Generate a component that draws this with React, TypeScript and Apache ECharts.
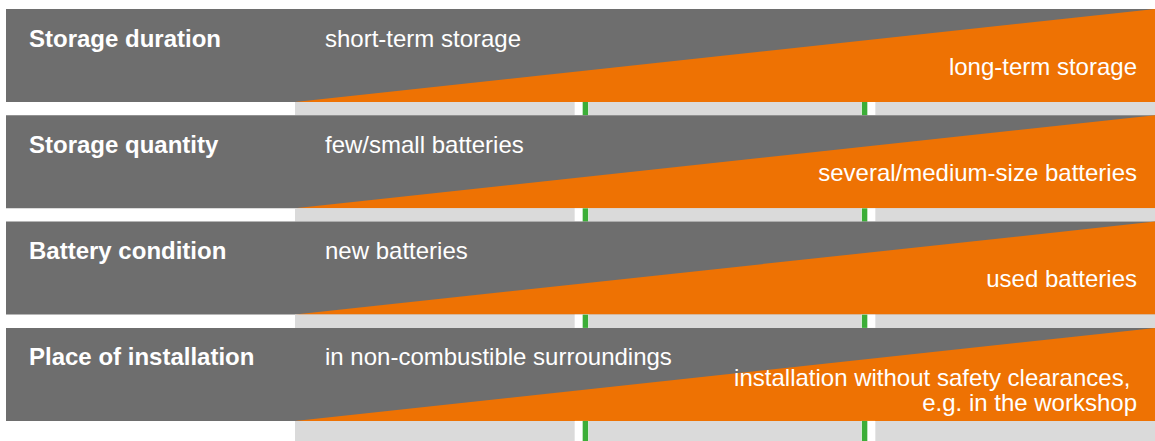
import React, { useEffect, useRef } from "react";
import * as echarts from "echarts";

const categories = ["Storage duration", "Storage quantity", "Battery condition", "Place of installation"];
const lowEnd = ["short-term storage", "few/small batteries", "new batteries", "in non-combustible surroundings"];
const highEnd = [
  "long-term storage",
  "several/medium-size batteries",
  "used batteries",
  "installation without safety clearances, \ne.g. in the workshop",
];
const scaleMin = 0;
const scaleMax = 3;
const dividers = [1, 2];

const DARK = "#6e6e6e";
const ORANGE = "#ee7203";
const LIGHT = "#dadada";
const GREEN = "#3cae38";
const FONT_FAMILY = '"Liberation Sans", Arial, Helvetica, sans-serif';

export default function App() {
  const ref = useRef<HTMLDivElement>(null);

  useEffect(() => {
    if (!ref.current) return;
    const chart = echarts.init(ref.current, null, { renderer: "svg" });
    const last = categories.length - 1;

    const renderItem = (params: any, api: any) => {
      const i = api.value(0);
      const band = api.size([0, 1])[1];
      const [x0, yc] = api.coord([scaleMin, i]);
      const x3 = api.coord([scaleMax, i])[0];
      const top = yc - band / 2;
      const darkH = band * 0.875;
      const bottom = top + darkH;
      const lightH = i === last ? api.getHeight() - bottom : band - darkH;
      const mid = (scaleMin + scaleMax) / 2;

      const children: any[] = [
        { type: "rect", shape: { x: 6, y: top, width: api.getWidth() - 6, height: darkH }, style: { fill: DARK } },
        {
          type: "polygon",
          shape: { points: [[x0, bottom], [x3, top], [x3, bottom]] },
          style: { fill: ORANGE },
        },
        { type: "rect", shape: { x: x0, y: bottom, width: x3 - x0, height: lightH }, style: { fill: LIGHT } },
      ];

      dividers.forEach((d) => {
        const xd = api.coord([d, i])[0];
        const greenRight = d < mid;
        children.push({
          type: "rect",
          shape: { x: xd - 7, y: bottom, width: 14, height: lightH },
          style: { fill: "#ffffff" },
        });
        children.push({
          type: "rect",
          shape: { x: greenRight ? xd + 1 : xd - 6.5, y: bottom, width: 5.5, height: lightH },
          style: { fill: GREEN },
        });
      });

      const textStyle = (text: string, weight: string, size: number, align: string) => ({
        text,
        fill: "#ffffff",
        font: `${weight} ${size}px ${FONT_FAMILY}`,
        align,
        verticalAlign: "middle",
        textAlign: align,
        textVerticalAlign: "middle",
      });

      children.push({ type: "text", x: 29, y: top + 29, style: textStyle(categories[i], "bold", 24, "left") });
      children.push({ type: "text", x: x0 + 30, y: top + 29, style: textStyle(lowEnd[i], "normal", 24, "left") });

      const lines = highEnd[i].split("\n");
      if (lines.length === 1) {
        children.push({ type: "text", x: x3 - 18, y: top + 57, style: textStyle(lines[0], "normal", 24, "right") });
      } else {
        lines.forEach((ln, k) => {
          children.push({
            type: "text",
            x: x3 - 18,
            y: top + 50 + k * 24.8,
            style: textStyle(ln, "normal", 24, "right"),
          });
        });
      }

      return { type: "group", children };
    };

    chart.setOption({
      animation: false,
      backgroundColor: "#ffffff",
      grid: { left: 295, right: 0, top: 9, bottom: 6.8 },
      xAxis: { type: "value", min: scaleMin, max: scaleMax, show: false },
      yAxis: { type: "category", data: categories, inverse: true, show: false },
      series: [
        {
          type: "custom",
          renderItem,
          clip: false,
          data: categories.map((_, i) => [i]),
          encode: { y: 0 },
        },
      ],
    });

    return () => chart.dispose();
  }, []);

  return (
    <div
      ref={ref}
      style={{ position: "fixed", left: 0, top: 0, width: 1155, height: 441, background: "#ffffff" }}
    />
  );
}
